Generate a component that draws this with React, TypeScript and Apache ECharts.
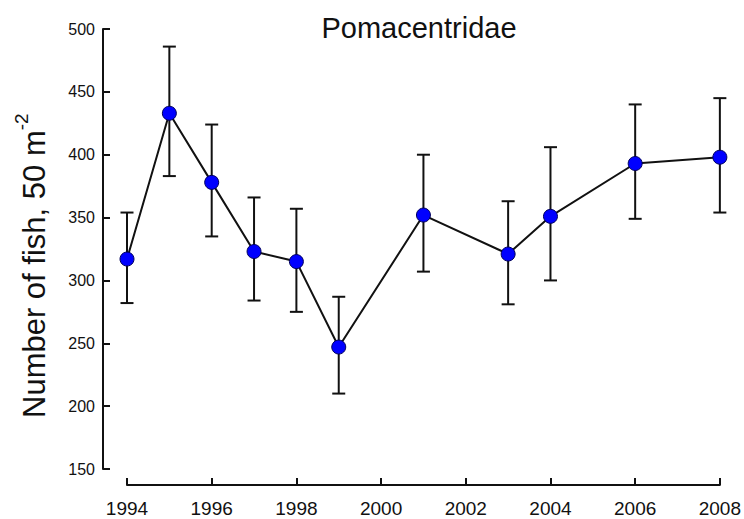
import { useEffect, useRef } from 'react';
import * as echarts from 'echarts';

// Survey years and Pomacentridae counts (mean with lower/upper error limits)
const years = [1994, 1995, 1996, 1997, 1998, 1999, 2001, 2003, 2004, 2006, 2008];
const means = [317, 433, 378, 323, 315, 247, 352, 321, 351, 393, 398];
const lower = [282, 383, 335, 284, 275, 210, 307, 281, 300, 349, 354];
const upper = [354, 486, 424, 366, 357, 287, 400, 363, 406, 440, 445];

const FONT = '"Liberation Sans", Arial, Helvetica, sans-serif';
const INK = '#111';

export default function App() {
  const ref = useRef<HTMLDivElement>(null);

  useEffect(() => {
    const chart = echarts.init(ref.current!, null, { renderer: 'svg' });

    chart.setOption({
      animation: false,
      backgroundColor: '#ffffff',
      grid: { left: 127, right: 23, top: 29, bottom: 50 },
      xAxis: {
        type: 'value',
        min: 1994,
        max: 2008,
        interval: 2,
        offset: 16,
        splitLine: { show: false },
        axisLine: { show: true, lineStyle: { color: INK, width: 2 } },
        axisTick: { show: true, inside: true, length: 7, lineStyle: { color: INK, width: 2 } },
        axisLabel: {
          fontSize: 19,
          fontFamily: FONT,
          color: INK,
          margin: 14,
          formatter: (v: number) => String(v),
        },
      },
      yAxis: {
        type: 'value',
        min: 150,
        max: 500,
        interval: 50,
        offset: 24,
        splitLine: { show: false },
        axisLine: { show: true, lineStyle: { color: INK, width: 2 } },
        axisTick: { show: true, inside: true, length: 7, lineStyle: { color: INK, width: 2 } },
        axisLabel: { fontSize: 16, fontFamily: FONT, color: INK, margin: 8 },
      },
      series: [
        {
          type: 'custom',
          z: 2,
          clip: false,
          data: years.map((y, i) => [y, lower[i], upper[i]]),
          encode: { x: 0, y: [1, 2] },
          renderItem: (_params: any, api: any) => {
            const x = api.value(0);
            const lo = api.coord([x, api.value(1)]);
            const hi = api.coord([x, api.value(2)]);
            const hw = 6.5;
            const style = { stroke: INK, lineWidth: 2 };
            return {
              type: 'group',
              children: [
                { type: 'line', shape: { x1: lo[0], y1: lo[1], x2: hi[0], y2: hi[1] }, style },
                { type: 'line', shape: { x1: lo[0] - hw, y1: lo[1], x2: lo[0] + hw, y2: lo[1] }, style },
                { type: 'line', shape: { x1: hi[0] - hw, y1: hi[1], x2: hi[0] + hw, y2: hi[1] }, style },
              ],
            };
          },
        },
        {
          type: 'line',
          z: 3,
          data: years.map((y, i) => [y, means[i]]),
          symbol: 'circle',
          symbolSize: 14,
          itemStyle: { color: '#0000ff', borderColor: '#00005a', borderWidth: 1 },
          lineStyle: { color: INK, width: 2 },
        },
      ],
      graphic: [
        {
          type: 'text',
          x: 419,
          y: 27.5,
          style: {
            text: 'Pomacentridae',
            fontSize: 29,
            fontFamily: FONT,
            lineHeight: 29,
            fill: INK,
            align: 'center',
            verticalAlign: 'middle',
          },
        },
        {
          type: 'text',
          x: 12,
          y: 418,
          rotation: Math.PI / 2,
          style: {
            text: '{a|Number of fish, 50 m}{b|-2}',
            align: 'left',
            verticalAlign: 'top',
            rich: {
              a: { fontSize: 31, fontFamily: FONT, lineHeight: 44, fill: INK },
              b: { fontSize: 19, fontFamily: FONT, lineHeight: 19, verticalAlign: 'top', fill: INK },
            },
          },
        },
      ],
    });

    return () => chart.dispose();
  }, []);

  return (
    <div
      ref={ref}
      style={{ position: 'absolute', left: 0, top: 0, width: 744, height: 519 }}
    />
  );
}
